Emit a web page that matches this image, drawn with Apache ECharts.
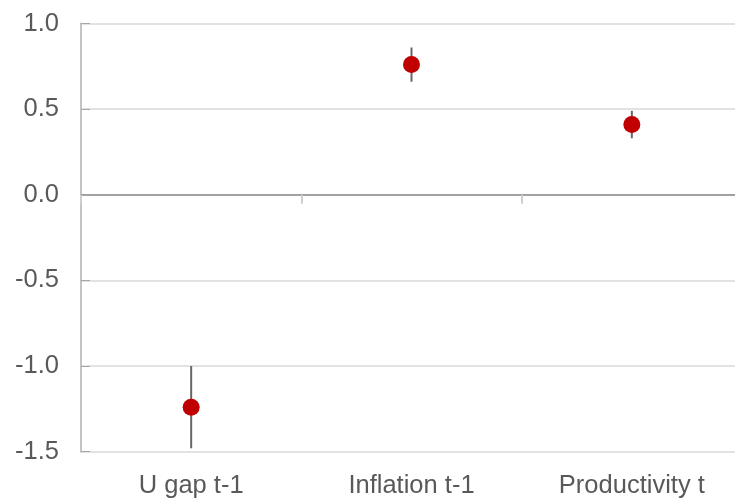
<!DOCTYPE html>
<html>
<head>
<meta charset="utf-8">
<script src="https://cdn.jsdelivr.net/npm/echarts@6/dist/echarts.min.js"></script>
<style>
  html, body { margin: 0; padding: 0; background: #fff; }
  #chart { width: 735px; height: 498px; }
</style>
</head>
<body>
<div id="chart"></div>
<script>
// Coefficient estimates with confidence bands
const categories = ['U gap t-1', 'Inflation t-1', 'Productivity t'];
const estimates = [-1.24, 0.76, 0.41];
const lowerBounds = [-1.48, 0.66, 0.33];
const upperBounds = [-1.00, 0.86, 0.49];

const FONT = '"Liberation Sans", Arial, sans-serif';
const TEXT = '#595959';

const errorData = categories.map((c, i) => [i, lowerBounds[i], upperBounds[i]]);

const chart = echarts.init(document.getElementById('chart'), null, { renderer: 'canvas' });

chart.setOption({
  animation: false,
  backgroundColor: '#ffffff',
  // the plot area runs a few pixels past the right edge of the canvas
  grid: { left: 81, right: -7, top: 23.5, bottom: 46.3, containLabel: false, outerBoundsMode: 'none' },
  xAxis: [
    {
      type: 'category',
      data: categories,
      boundaryGap: true,
      axisLine: { onZero: true, lineStyle: { color: '#8c8c8c', width: 1.5 } },
      axisTick: { show: true, length: 9, lineStyle: { color: '#cfcfcf', width: 2 } },
      axisLabel: { show: false },
      splitLine: { show: false }
    },
    {
      type: 'category',
      data: categories,
      position: 'bottom',
      boundaryGap: true,
      axisLine: { show: false, onZero: false },
      axisTick: { show: false },
      axisLabel: { show: true, color: TEXT, fontFamily: FONT, fontSize: 25.5, margin: 21 },
      splitLine: { show: false }
    }
  ],
  yAxis: {
    type: 'value',
    min: -1.5,
    max: 1.0,
    interval: 0.5,
    axisLine: { show: true, lineStyle: { color: '#c4c4c4', width: 2 } },
    axisTick: { show: true, inside: true, length: 9, lineStyle: { color: '#a6a6a6', width: 1 } },
    axisLabel: {
      color: TEXT, fontFamily: FONT, fontSize: 25.5, margin: 22,
      formatter: v => v.toFixed(1)
    },
    splitLine: { show: true, lineStyle: { color: '#d9d9d9', width: 1.5 } }
  },
  series: [
    {
      type: 'custom',
      xAxisIndex: 0,
      data: errorData,
      z: 2,
      renderItem: function (params, api) {
        const i = api.value(0);
        const lo = api.coord([i, api.value(1)]);
        const hi = api.coord([i, api.value(2)]);
        return {
          type: 'line',
          shape: { x1: lo[0], y1: lo[1], x2: hi[0], y2: hi[1] },
          style: { stroke: '#666666', lineWidth: 2 }
        };
      }
    },
    {
      type: 'scatter',
      xAxisIndex: 0,
      data: estimates,
      symbol: 'circle',
      symbolSize: 17,
      z: 3,
      itemStyle: { color: '#c00000', opacity: 1 }
    }
  ]
});
</script>
</body>
</html>
